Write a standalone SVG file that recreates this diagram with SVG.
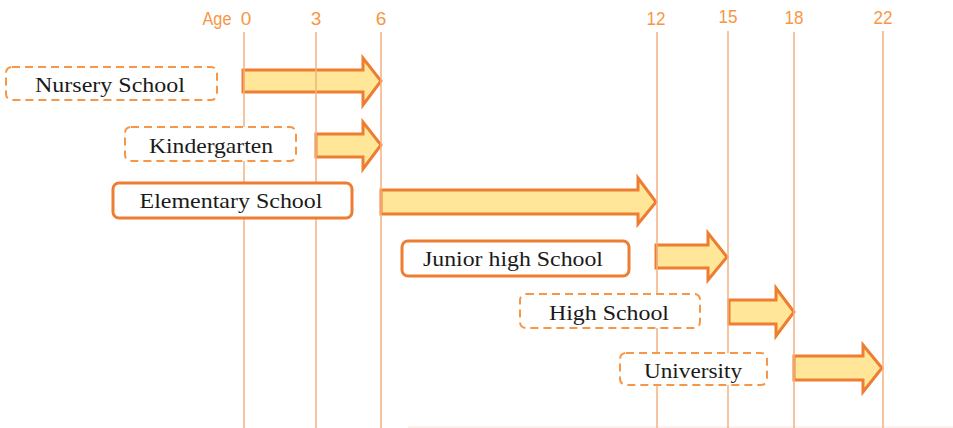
<svg xmlns="http://www.w3.org/2000/svg" width="953" height="428" viewBox="0 0 953 428">
<style>
.age{font-family:"Liberation Sans",Arial,sans-serif;font-size:19px;fill:#F79646;text-anchor:middle}
.vl{stroke:#F4B183;stroke-width:1.5;fill:none}
.arr{fill:#FFE699;stroke:#ED7D31;stroke-width:3;stroke-linejoin:miter}
.bd{fill:#fff;stroke:#F79646;stroke-width:2;stroke-dasharray:8 5}
.bs{fill:#fff;stroke:#ED7D31;stroke-width:3}
.lb{font-family:"Liberation Serif","Times New Roman",serif;font-size:22px;fill:#1a1a1a;text-anchor:middle}
</style>
<rect width="953" height="428" fill="#fff"/>
<g id="axis">
<text class="age" x="217" y="25" textLength="29" lengthAdjust="spacingAndGlyphs">Age</text>
<text class="age" x="246" y="25">0</text>
<text class="age" x="316" y="25">3</text>
<text class="age" x="381" y="25">6</text>
<text class="age" x="656" y="25" textLength="19" lengthAdjust="spacingAndGlyphs">12</text>
<text class="age" x="728" y="23" textLength="19" lengthAdjust="spacingAndGlyphs">15</text>
<text class="age" x="794" y="24" textLength="19" lengthAdjust="spacingAndGlyphs">18</text>
<text class="age" x="883" y="24" textLength="19" lengthAdjust="spacingAndGlyphs">22</text>
<line x1="408" y1="427" x2="953" y2="427" stroke="#FBE3D6" stroke-width="1"/>
</g>
<g id="connectors">
<polygon class="arr" points="243,70 363,70 363,58 381,81 363,105 363,92 243,92"/>
<polygon class="arr" points="316,134 363,134 363,122 381,145 363,169 363,157 316,157"/>
<polygon class="arr" points="381,190 638,190 638,178 656,202 638,224 638,214 381,214"/>
<polygon class="arr" points="656,245 708,245 708,233 727,257 708,280 708,268 656,268"/>
<polygon class="arr" points="729,300 776,300 776,288 794,312 776,336 776,324 729,324"/>
<polygon class="arr" points="794,356 863,356 863,345 882,368 863,392 863,380 794,380"/>
</g>
<g id="gridlines">
<line class="vl" x1="244" y1="32" x2="244" y2="428"/>
<line class="vl" x1="316" y1="32" x2="316" y2="428"/>
<line class="vl" x1="381" y1="32" x2="381" y2="428"/>
<line class="vl" x1="657" y1="32" x2="657" y2="428"/>
<line class="vl" x1="728" y1="31" x2="728" y2="428"/>
<line class="vl" x1="794" y1="32" x2="794" y2="428"/>
<line class="vl" x1="883" y1="31" x2="883" y2="428"/>
</g>
<g id="nursery">
<rect class="bd" x="6" y="67" width="211" height="33" rx="6"/>
<text class="lb" x="110" y="92" textLength="150" lengthAdjust="spacingAndGlyphs">Nursery School</text>
</g>
<g id="kindergarten">
<rect class="bd" x="125" y="127" width="171" height="34" rx="6"/>
<text class="lb" x="211" y="153" textLength="124" lengthAdjust="spacingAndGlyphs">Kindergarten</text>
</g>
<g id="elementary">
<rect class="bs" x="113" y="183" width="239" height="35" rx="6"/>
<text class="lb" x="231" y="208" textLength="183" lengthAdjust="spacingAndGlyphs">Elementary  School</text>
</g>
<g id="junior">
<rect class="bs" x="402" y="241" width="227" height="35" rx="6"/>
<text class="lb" x="513" y="266" textLength="180" lengthAdjust="spacingAndGlyphs">Junior high School</text>
</g>
<g id="high">
<rect class="bd" x="520" y="294" width="180" height="34" rx="6"/>
<text class="lb" x="609" y="320" textLength="120" lengthAdjust="spacingAndGlyphs">High School</text>
</g>
<g id="university">
<rect class="bd" x="620" y="353" width="147" height="32" rx="6"/>
<text class="lb" x="693" y="378" textLength="98" lengthAdjust="spacingAndGlyphs">University</text>
</g>
</svg>
